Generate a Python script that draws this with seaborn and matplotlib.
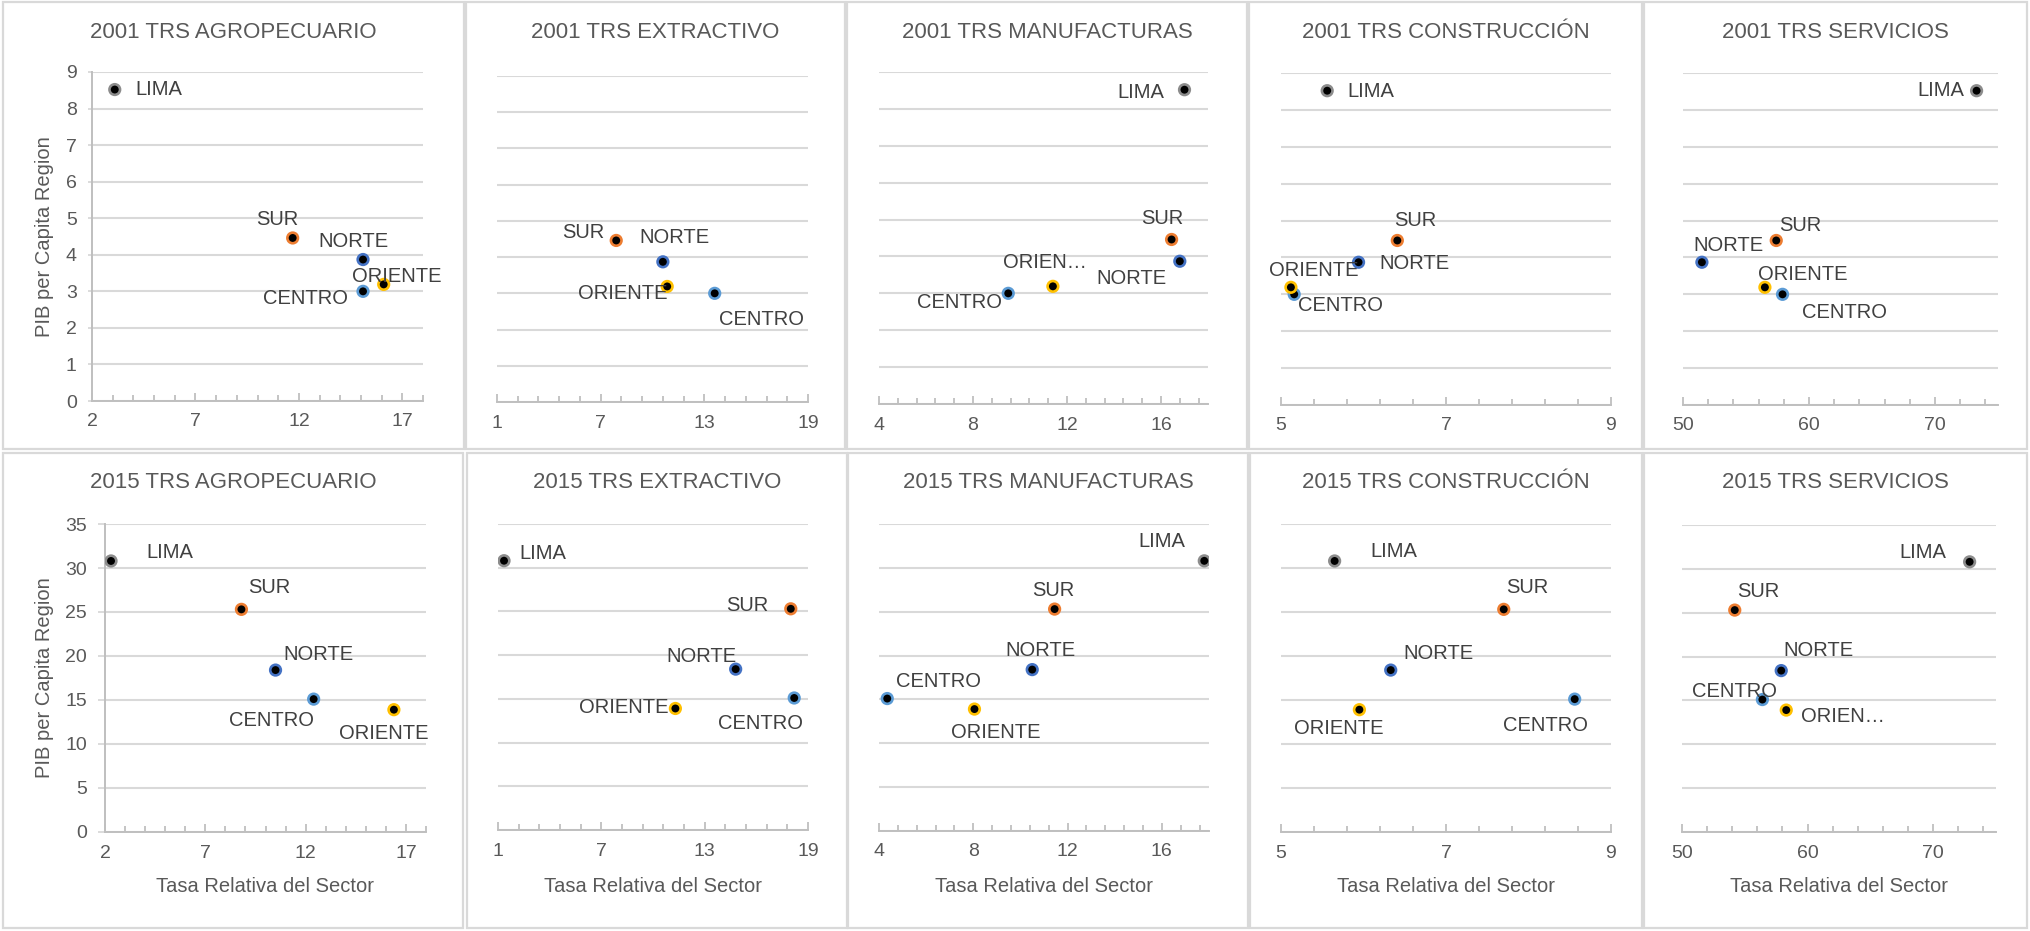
import numpy as np
import pandas as pd
import matplotlib.pyplot as plt
import seaborn as sns
from matplotlib.patches import Rectangle

regions = ["LIMA", "SUR", "NORTE", "CENTRO", "ORIENTE"]
ring_colors = ["#8C8C8C", "#ED7D31", "#4472C4", "#5B9BD5", "#FFC000"]

# PIB per capita por region (eje y)
pib_2001 = [8.52, 4.46, 3.87, 3.00, 3.19]
pib_2015 = [30.8, 25.3, 18.4, 15.1, 13.9]

# Tasa relativa del sector (eje x)
trs_2001_agro = [3.1, 11.7, 15.1, 15.1, 16.1]
trs_2001_extr = [np.nan, 7.9, 10.6, 13.6, 10.85]
trs_2001_manu = [17.0, 16.45, 16.8, 9.5, 11.4]
trs_2001_cons = [5.56, 6.41, 5.94, 5.16, 5.12]
trs_2001_serv = [73.3, 57.4, 51.5, 57.9, 56.5]
trs_2015_agro = [2.3, 8.8, 10.5, 12.4, 16.4]
trs_2015_extr = [1.35, 18.0, 14.8, 18.2, 11.3]
trs_2015_manu = [17.8, 11.45, 10.5, 4.35, 8.05]
trs_2015_cons = [5.65, 7.7, 6.33, 8.56, 5.95]
trs_2015_serv = [72.9, 54.2, 57.9, 56.4, 58.3]

titles = ["2001 TRS AGROPECUARIO", "2001 TRS EXTRACTIVO", "2001 TRS MANUFACTURAS",
          "2001 TRS CONSTRUCCIÓN", "2001 TRS SERVICIOS",
          "2015 TRS AGROPECUARIO", "2015 TRS EXTRACTIVO", "2015 TRS MANUFACTURAS",
          "2015 TRS CONSTRUCCIÓN", "2015 TRS SERVICIOS"]

x_series = [trs_2001_agro, trs_2001_extr, trs_2001_manu, trs_2001_cons, trs_2001_serv,
            trs_2015_agro, trs_2015_extr, trs_2015_manu, trs_2015_cons, trs_2015_serv]

# ejes x: (min, max, unidad mayor)
x_axes = [(2, 18, 5), (1, 19, 6), (4, 18, 4), (5, 9, 2), (50, 75, 10)] * 2

sns.set_theme(style="white")
plt.rcParams["font.family"] = ["Liberation Sans", "DejaVu Sans"]

W, H = 2030, 931
fig = plt.figure(figsize=(W / 100, H / 100), dpi=100)
fig.patch.set_facecolor("white")

# cajas en pixeles (izq, arriba, der, abajo)
plot_boxes = [(92, 72, 423, 401), (497, 76, 808, 402), (879, 72, 1208, 404),
              (1281, 73, 1611, 405), (1683, 73, 1998, 405),
              (105, 524, 426, 832), (498, 524, 808, 830), (879, 524, 1209, 831),
              (1281, 524, 1611, 832), (1682, 525, 1996, 832)]
panel_boxes = [(3, 2, 464, 449), (466, 2, 845, 449), (847, 2, 1247, 449),
               (1249, 2, 1642, 449), (1644, 2, 2027, 449),
               (3, 453, 463, 928), (467, 453, 847, 928), (848, 453, 1248, 928),
               (1250, 453, 1642, 928), (1644, 453, 2027, 928)]

# posiciones de etiquetas (dx, dy en pixeles) en orden de regions
label_offsets = [
    [(44, 0), (-15, 18), (-10, 18), (-58, -7), (13, 8)],
    [(0, 0), (-33, 8), (12, 24), (47, -26), (-44, -7)],
    [(-44, -3), (-9, 21), (-48, -17), (-49, -9), (-8, 24)],
    [(44, -1), (18, 20), (56, -1), (46, -11), (23, 17)],
    [(-36, 0), (24, 15), (27, 17), (62, -18), (38, 13)],
    [(59, 8), (28, 22), (43, 16), (-42, -21), (-10, -24)],
    [(39, 7), (-44, 3), (-34, 13), (-34, -26), (-52, 1)],
    [(-42, 19), (-1, 19), (8, 19), (51, 17), (21, -23)],
    [(59, 9), (24, 22), (48, 17), (-29, -26), (-21, -19)],
    [(-47, 9), (24, 19), (37, 20), (-28, 8), (57, -6)],
]
short_names = {2: {"ORIENTE": "ORIEN…"}, 9: {"ORIENTE": "ORIEN…"}}

grid_c = "#D9D9D9"
axis_c = "#BFBFBF"
text_c = "#595959"

for i in range(10):
    top_row = i < 5
    l, t, r, b = plot_boxes[i]
    ax = fig.add_axes([l / W, 1 - b / H, (r - l) / W, (b - t) / H])
    yvals = pib_2001 if top_row else pib_2015
    df = pd.DataFrame({"x": x_series[i], "y": yvals, "region": regions})

    sns.scatterplot(data=df, x="x", y="y", hue="region", hue_order=regions,
                    palette=ring_colors, s=58, legend=False, ax=ax, zorder=3)
    coll = ax.collections[-1]
    fc = coll.get_facecolors()
    coll.set_edgecolors(fc)
    coll.set_facecolors("black")
    coll.set_linewidths(1.9)

    for j, row in df.iterrows():
        if np.isnan(row["x"]):
            continue
        name = short_names.get(i, {}).get(row["region"], row["region"])
        dx, dy = label_offsets[i][j]
        ax.annotate(name, (row["x"], row["y"]), xytext=(dx, dy),
                    textcoords="offset pixels", ha="center", va="center",
                    fontsize=14.5, color="#404040", zorder=4)

    xmin, xmax, major = x_axes[i]
    ax.set_xlim(xmin, xmax)
    ax.set_xticks(np.arange(xmin, xmax + 1e-9, major))
    ax.set_xticks(np.arange(xmin, xmax + 1e-9, major / 5), minor=True)
    ymax = 9 if top_row else 35
    ystep = 1 if top_row else 5
    ax.set_ylim(0, ymax)
    ax.set_yticks(np.arange(0, ymax + 1e-9, ystep))

    ax.grid(axis="y", color=grid_c, linewidth=1.5)
    ax.grid(axis="x", visible=False)
    ax.set_axisbelow(True)
    for side in ["top", "right"]:
        ax.spines[side].set_visible(False)
    ax.spines["bottom"].set_color(axis_c)
    ax.spines["bottom"].set_linewidth(1.4)
    ax.tick_params(axis="x", which="both", direction="in", colors=axis_c,
                   labelcolor=text_c, labelsize=14, pad=9, bottom=True)
    ax.tick_params(axis="x", which="major", length=6, width=1.3)
    ax.tick_params(axis="x", which="minor", length=4, width=1.3)

    if i % 5 == 0:
        ax.spines["left"].set_color(axis_c)
        ax.spines["left"].set_linewidth(1.4)
        ax.tick_params(axis="y", direction="out", length=3 if top_row else 5,
                       width=1.3, colors=grid_c, labelcolor=text_c,
                       labelsize=14, pad=8, left=True)
        ax.set_ylabel("PIB per Capita Region", fontsize=14.5, color=text_c, va="center")
        ax.yaxis.set_label_coords((45 - l) / (r - l), 0.5)
    else:
        ax.spines["left"].set_visible(False)
        ax.tick_params(axis="y", left=False, labelleft=False)
        ax.set_ylabel("")

    if top_row:
        ax.set_xlabel("")
    else:
        ax.set_xlabel("Tasa Relativa del Sector", fontsize=14.5, color=text_c, va="center")
        ax.xaxis.set_label_coords(0.5, -(887 - b) / (b - t))

    pl, pt, pr, pb = panel_boxes[i]
    fig.add_artist(Rectangle((pl / W, 1 - pb / H), (pr - pl) / W, (pb - pt) / H,
                             transform=fig.transFigure, fill=False,
                             edgecolor=grid_c, linewidth=1.6))
    title_y = 33 if top_row else 483
    fig.text((pl + pr) / 2 / W, 1 - title_y / H, titles[i], ha="center", va="center",
             fontsize=16, color=text_c)

plt.savefig("out.png", dpi=100, facecolor="white")
